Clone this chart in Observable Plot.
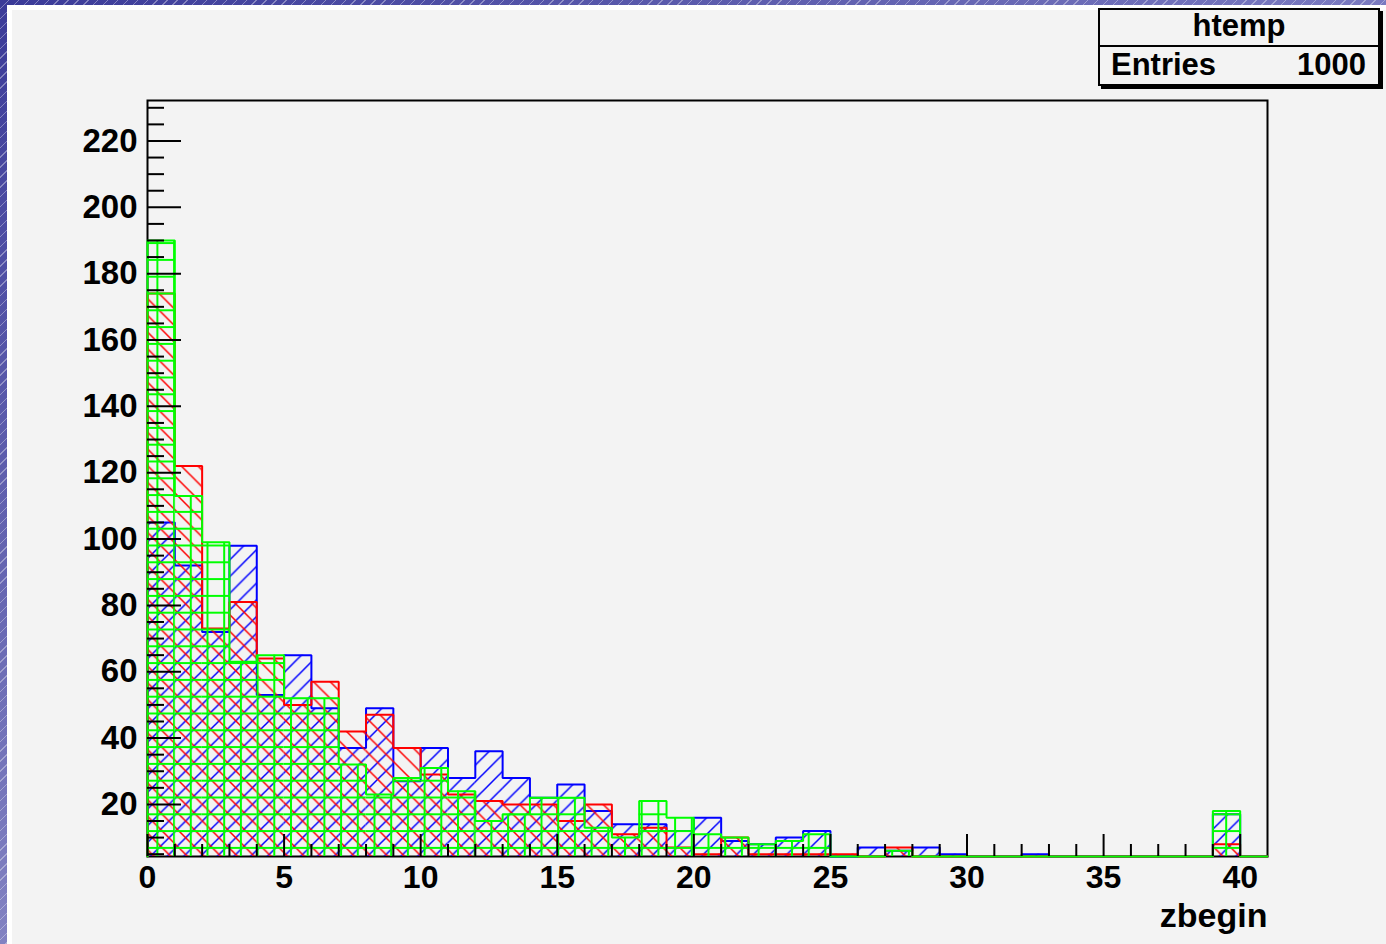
<!DOCTYPE html>
<html><head><meta charset="utf-8">
<script src="https://cdn.jsdelivr.net/npm/d3@7"></script>
<script src="https://cdn.jsdelivr.net/npm/@observablehq/plot@0.6"></script>
<style>
html,body{margin:0;padding:0;}
body{width:1386px;height:944px;position:relative;overflow:hidden;background:#fff;font-family:"Liberation Sans",Arial,Helvetica,sans-serif;}
#canvasbg{position:absolute;left:12px;top:10px;width:1374px;height:934px;background:#f3f3f3;}
#bl{position:absolute;left:0;top:0;width:7px;height:944px;
 background:repeating-linear-gradient(135deg, rgba(255,255,255,0) 0px, rgba(255,255,255,0) 6px, rgba(255,255,255,0.35) 6px, rgba(255,255,255,0.35) 7px), linear-gradient(180deg,#3a3a98,#8282c2);}
#bt{position:absolute;left:0;top:0;width:1386px;height:5px;
 background:repeating-linear-gradient(135deg, rgba(255,255,255,0) 0px, rgba(255,255,255,0) 6px, rgba(255,255,255,0.35) 6px, rgba(255,255,255,0.35) 7px), linear-gradient(90deg,#3a3a98,#7a7ac0);}
#chart{position:absolute;left:0;top:0;}
#stats{position:absolute;left:1098px;top:8px;width:278px;height:74px;border:2px solid #000;box-shadow:3px 3px 0 #000;background:#f3f3f3;font-weight:bold;font-size:31px;line-height:31px;color:#000;}
#stats .t{position:absolute;left:0;right:0;top:0px;text-align:center;}
#stats .d{position:absolute;left:0;right:0;top:35px;height:2px;background:#000;}
#stats .l{position:absolute;left:11px;top:39px;}
#stats .r{position:absolute;right:12px;top:39px;}
</style></head>
<body>
<div id="canvasbg"></div>
<div id="bl"></div><div id="bt"></div>
<svg width="0" height="0" style="position:absolute">
 <defs>
  <pattern id="hBlue" patternUnits="userSpaceOnUse" width="16.7" height="16.7" x="14.5" y="6.9">
   <path d="M-1,17.7 L17.7,-1 M-1,1 L1,-1 M15.7,17.7 L17.7,15.7" stroke="#0000ff" stroke-width="1.5" fill="none"/>
  </pattern>
  <pattern id="hRed" patternUnits="userSpaceOnUse" width="16.7" height="16.7" x="6.1" y="6.9">
   <path d="M-1,-1 L17.7,17.7 M15.7,-1 L17.7,1 M-1,15.7 L1,17.7" stroke="#ff0000" stroke-width="1.5" fill="none"/>
  </pattern>
  <pattern id="hGreen" patternUnits="userSpaceOnUse" width="16.7" height="16.8" x="6.1" y="6.9">
   <path d="M1,0 V16.8 M0,1 H16.7" stroke="#00ff00" stroke-width="2" fill="none"/>
  </pattern>
 </defs>
</svg>
<div id="chart"></div>
<div id="stats"><div class="t">htemp</div><div class="d"></div><div class="l">Entries</div><div class="r">1000</div></div>
<script>
// ---- data ----
const binLow = [0,1,2,3,4,5,6,7,8,9,10,11,12,13,14,15,16,17,18,19,20,21,22,23,24,25,26,27,28,29,30,31,32,33,34,35,36,37,38,39,40];
const binWidth = 1;
const blueCounts  = [105,92,72,98,53,65,49,37,49,27,37,28,36,28,22,26,18,14,14,12,16,9,8,10,12,3,7,6,7,5,2,1,5,1,0,1,0,1,0,17,0];
const redCounts   = [174,122,73,81,64,50,57,42,47,37,29,23,21,20,20,15,20,11,13,7,5,10,5,5,5,5,3,7,2,1,0,0,1,0,0,0,0,0,0,8,0];
const greenCounts = [190,113,99,63,65,52,52,32,23,28,31,24,15,17,22,22,13,10,21,16,11,10,8,9,11,3,2,6,2,1,0,0,0,0,0,0,0,0,0,18,0];
const xMajorTicks = [0,5,10,15,20,25,30,35,40];
const xMinorTicks = [1,2,3,4,6,7,8,9,11,12,13,14,16,17,18,19,21,22,23,24,26,27,28,29,31,32,33,34,36,37,38,39];
const yMajorTicks = [20,40,60,80,100,120,140,160,180,200,220];
const yMinorTicks = [5,10,15,25,30,35,45,50,55,65,70,75,85,90,95,105,110,115,125,130,135,145,150,155,165,170,175,185,190,195,205,210,215,225,230];
const xTitle = "zbegin";
const xDomain = [0, 41];
const yDomain = [4.3, 232.2];

// ---- layout / style ----
const W = 1386, H = 944, mL = 147, mR = 119, mT = 100, mB = 88;
const plotW = W - mL - mR, plotH = H - mT - mB;
const yMin = yDomain[0];

function bars(counts) {
  return counts.map((v, i) => ({x1: binLow[i], x2: binLow[i] + binWidth, y: v}));
}
function contour(counts) {
  const pts = [{x: binLow[0], y: yMin}];
  counts.forEach((v, i) => {
    const y = Math.max(v, yMin);
    pts.push({x: binLow[i], y}, {x: binLow[i] + binWidth, y});
  });
  pts.push({x: binLow[binLow.length - 1] + binWidth, y: yMin});
  return pts;
}
const series = [
  {counts: blueCounts, fill: "url(#hBlue)", stroke: "#0000ff"},
  {counts: redCounts, fill: "url(#hRed)", stroke: "#ff0000"},
  {counts: greenCounts, fill: "url(#hGreen)", stroke: "#00ff00"}
];
const histMarks = [];
for (const s of series) {
  histMarks.push(Plot.rectY(bars(s.counts), {x1: "x1", x2: "x2", y1: 0, y2: "y", fill: s.fill, clip: true}));
  histMarks.push(Plot.line(contour(s.counts), {x: "x", y: "y", stroke: s.stroke, strokeWidth: 2, strokeLinejoin: "miter"}));
}

const chart = Plot.plot({
  width: W, height: H,
  marginLeft: mL, marginRight: mR, marginTop: mT, marginBottom: mB,
  style: {background: "none", fontFamily: "Liberation Sans, Arial, Helvetica, sans-serif", color: "#000", overflow: "visible"},
  x: {domain: xDomain},
  y: {domain: yDomain},
  marks: [
    Plot.frame({stroke: "#000", strokeWidth: 2}),
    ...histMarks,
    Plot.tickY(yMinorTicks, {y: d => d, stroke: "#000", strokeWidth: 2, insetRight: plotW - 17}),
    Plot.tickY(yMajorTicks, {y: d => d, stroke: "#000", strokeWidth: 2, insetRight: plotW - 34}),
    Plot.tickX(xMinorTicks, {x: d => d, stroke: "#000", strokeWidth: 2, insetTop: plotH - 12}),
    Plot.tickX(xMajorTicks, {x: d => d, stroke: "#000", strokeWidth: 2, insetTop: plotH - 22}),
    Plot.axisX({ticks: xMajorTicks, tickSize: 0, tickPadding: 9, fontSize: 32, fontWeight: "bold", label: null, tickFormat: d => String(d)}),
    Plot.axisY({ticks: yMajorTicks, tickSize: 0, tickPadding: 10, fontSize: 33, fontWeight: "bold", label: null, tickFormat: d => String(d)}),
    Plot.text([xTitle], {text: d => d, frameAnchor: "bottom-right", dy: 46, lineAnchor: "top", textAnchor: "end", fontSize: 34, fontWeight: "bold", fill: "#000"})
  ]
});
document.getElementById("chart").appendChild(chart);
</script>
</body></html>
